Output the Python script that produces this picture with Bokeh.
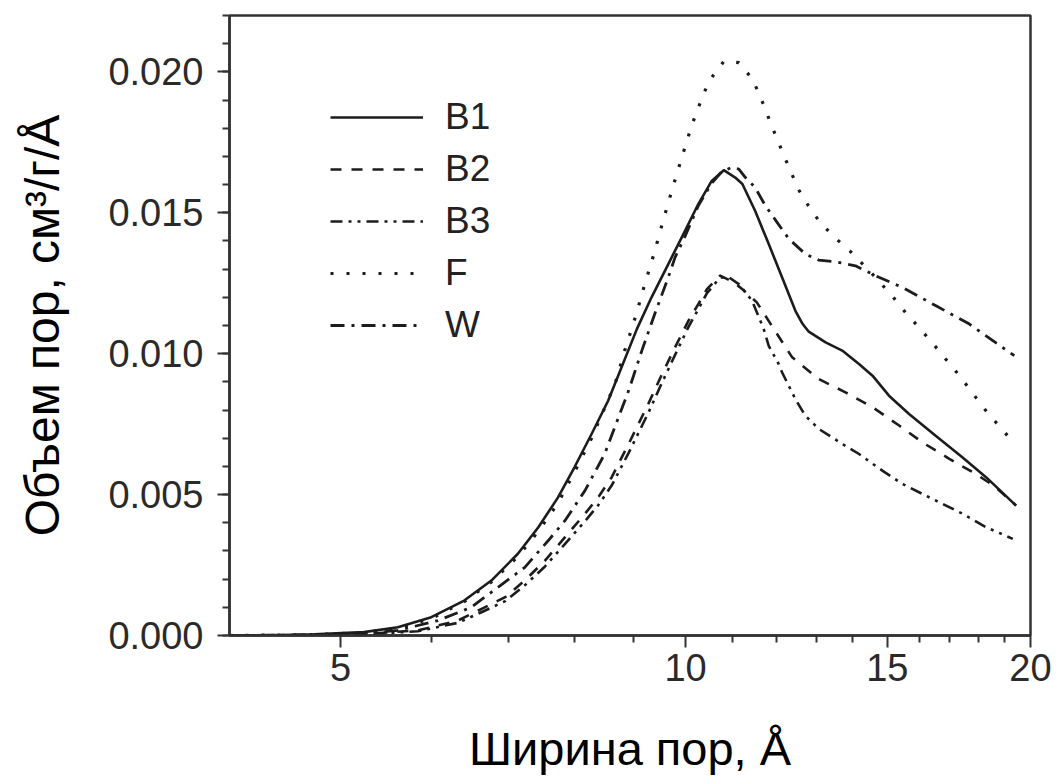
from bokeh.plotting import figure
from bokeh.models import (Range1d, FixedTicker, SingleIntervalTicker, PrintfTickFormatter,
                          Legend, LegendItem)
from bokeh.embed import file_html
from bokeh.resources import INLINE

# ---- data ----
X_TICKS = [5, 10, 15, 20]
X_MINOR = [6, 7, 8, 9, 11, 12, 13, 14, 16, 17, 18, 19]

B1_x = [4.0, 4.43, 4.74, 5.24, 5.61, 6.0, 6.41, 6.77, 7.14, 7.44, 7.74, 8.0, 8.28, 8.56, 9.07, 9.34,
        9.66, 9.99, 10.26, 10.54, 10.8, 11.05, 11.21, 11.5, 11.82, 12.14, 12.47, 12.64, 12.81, 13.25, 13.7,
        14.17, 14.56, 15.05, 15.67, 16.53, 17.45, 18.3, 19.43]
B1_y = [0.0, 0.00002, 0.00004, 0.00012, 0.00029, 0.00065, 0.00124, 0.00195, 0.0029, 0.00384, 0.0049,
        0.00597, 0.00715, 0.00833, 0.01088, 0.012, 0.01318, 0.01436, 0.01531, 0.01613, 0.01651, 0.01625,
        0.01602, 0.01507, 0.01389, 0.01271, 0.01152, 0.01108, 0.01078, 0.0104, 0.01011, 0.00963, 0.00922,
        0.00851, 0.00786, 0.00709, 0.00632, 0.00561, 0.00461]

B2_x = [4.0, 4.74, 5.24, 5.84, 6.33, 6.68, 6.96, 7.24, 7.54, 7.85, 8.17, 8.39, 8.62, 8.92, 9.28, 9.54,
        9.79, 10.06, 10.26, 10.44, 10.72, 11.02, 11.21, 11.54, 11.94, 12.39, 13.07, 13.79, 14.56, 15.36,
        16.1, 16.99, 17.92, 18.6, 19.43]
B2_y = [0.0, 0.00001, 0.00005, 0.00018, 0.00053, 0.001, 0.00136, 0.00195, 0.00266, 0.00349, 0.00432,
        0.0049, 0.00561, 0.0068, 0.00822, 0.00928, 0.01022, 0.01117, 0.01176, 0.01229, 0.01277, 0.01253,
        0.01229, 0.01182, 0.01088, 0.00987, 0.0091, 0.00863, 0.0081, 0.00745, 0.00685, 0.00627, 0.00573,
        0.0053, 0.00461]

B3_x = [4.0, 4.74, 5.24, 5.84, 6.33, 6.68, 6.96, 7.24, 7.54, 7.85, 8.17, 8.39, 8.62, 8.92, 9.28, 9.54,
        9.79, 10.06, 10.26, 10.44, 10.72, 10.9, 11.13, 11.43, 11.7, 11.82, 12.06, 12.14, 12.47, 12.72,
        13.07, 13.7, 14.17, 14.85, 15.46, 16.1, 16.76, 17.45, 18.3, 19.3]
B3_y = [0.0, 0.00001, 0.00004, 0.00015, 0.00045, 0.00088, 0.00122, 0.00178, 0.00245, 0.00325, 0.00405,
        0.00462, 0.00532, 0.00648, 0.0079, 0.00898, 0.00995, 0.01095, 0.01158, 0.01215, 0.0127, 0.01272,
        0.01247, 0.01188, 0.01088, 0.01028, 0.00963, 0.00934, 0.00839, 0.0078, 0.00733, 0.0068, 0.00644,
        0.00585, 0.00538, 0.00502, 0.00467, 0.00432, 0.00384, 0.00343]

F_x = [4.0, 4.74, 5.24, 5.61, 6.0, 6.41, 6.77, 7.14, 7.44, 7.74, 8.0, 8.28, 8.68, 8.85, 9.04, 9.21,
       9.39, 9.56, 9.74, 9.93, 10.13, 10.38, 10.54, 10.8, 11.13, 11.42, 11.6, 11.9, 12.21, 12.56, 12.8,
       13.1, 13.5, 13.91, 14.5, 15.16, 15.56, 16.0, 16.43, 16.88, 17.34, 17.78, 18.26, 18.76, 19.3]
F_y = [0.0, 0.00003, 0.0001, 0.00027, 0.0006, 0.0012, 0.0019, 0.0028, 0.0037, 0.0047, 0.0058, 0.007,
       0.00893, 0.01011, 0.01129, 0.01244, 0.01357, 0.01472, 0.01586, 0.01699, 0.01812, 0.01927, 0.0198,
       0.02037, 0.02033, 0.01978, 0.01921, 0.01805, 0.01694, 0.0158, 0.01525, 0.01466, 0.01412, 0.01365,
       0.0129, 0.01203, 0.01146, 0.01091, 0.01037, 0.00979, 0.00922, 0.00863, 0.00801, 0.00745, 0.00688]

W_x = [4.0, 4.74, 5.24, 5.61, 6.08, 6.5, 6.86, 7.24, 7.59, 7.85, 8.17, 8.5, 8.92, 9.16, 9.4, 9.66,
       9.79, 10.0, 10.26, 10.54, 10.75, 10.98, 11.13, 11.28, 11.5, 11.74, 12.02, 12.31, 12.72, 13.07,
       13.52, 14.07, 14.75, 15.46, 16.54, 17.69, 18.91, 19.36]
W_y = [0.0, 0.00002, 0.00007, 0.00018, 0.00053, 0.001, 0.00171, 0.00242, 0.00337, 0.00408, 0.00514,
       0.00644, 0.00869, 0.01011, 0.01141, 0.01271, 0.01341, 0.0142, 0.01525, 0.01605, 0.01645, 0.01662,
       0.01655, 0.01625, 0.0159, 0.01525, 0.01466, 0.01407, 0.01354, 0.01332, 0.01326, 0.01312, 0.01271,
       0.01235, 0.0117, 0.01105, 0.01022, 0.00993]

LABELS = ["B1", "B2", "B3", "F", "W"]

# ---- figure ----
FONT = "Liberation Sans"
INK = "#1c1c1c"

p = figure(width=1057, height=783, x_axis_type="log",
           x_range=Range1d(4, 20), y_range=Range1d(0, 0.022),
           output_backend="svg", toolbar_location=None,
           min_border_left=229, min_border_right=27, min_border_top=15, min_border_bottom=148)

p.xgrid.visible = False
p.ygrid.visible = False
p.outline_line_color = "#333333"
p.outline_line_width = 2.5
p.background_fill_color = "white"
p.border_fill_color = "white"

series = [(B1_x, B1_y, "solid", 2.6),
          (B2_x, B2_y, "11 10", 2.6),
          (B3_x, B3_y, "12 6 3 6 3 6", 2.6),
          (F_x, F_y, "3 13", 3.2),
          (W_x, W_y, "14 7 3 7", 2.8)]

renderers = []
for (xs, ys, dash, lw) in series:
    r = p.line(xs, ys, line_color=INK, line_width=lw, line_dash=dash, line_join="round")
    renderers.append(r)

# axes
xa = p.xaxis[0]
xa.ticker = FixedTicker(ticks=X_TICKS, minor_ticks=X_MINOR)
xa.formatter = PrintfTickFormatter(format="%d")
ya = p.yaxis[0]
ya.ticker = SingleIntervalTicker(interval=0.005, num_minor_ticks=5)
ya.formatter = PrintfTickFormatter(format="%.3f")

for ax in (xa, ya):
    ax.axis_line_color = "#333333"
    ax.axis_line_width = 2.5
    ax.major_tick_line_color = "#333333"
    ax.minor_tick_line_color = "#333333"
    ax.major_tick_line_width = 2
    ax.minor_tick_line_width = 2
    ax.major_tick_out = 12
    ax.major_tick_in = 0
    ax.minor_tick_out = 7
    ax.minor_tick_in = 0
    ax.major_label_text_font = FONT
    ax.major_label_text_font_size = "38px"
    ax.major_label_text_color = "#2a2a2a"
    ax.axis_label_text_font = FONT
    ax.axis_label_text_font_style = "normal"
    ax.axis_label_text_color = "#000000"

xa.axis_label = "Ширина пор, Å"
xa.axis_label_text_font_size = "47px"
xa.major_label_standoff = 6
xa.axis_label_standoff = 38
ya.axis_label = "Объем пор, см³/г/Å"
ya.axis_label_text_font_size = "48px"
ya.major_label_standoff = 14
ya.axis_label_standoff = 36

legend = Legend(items=[LegendItem(label=lab, renderers=[r]) for lab, r in zip(LABELS, renderers)],
                location=(101, 284), orientation="vertical",
                glyph_width=93, glyph_height=52, label_height=52, label_standoff=22,
                spacing=0, padding=0, margin=0,
                border_line_alpha=0, background_fill_alpha=0,
                label_text_font=FONT, label_text_font_size="37px", label_text_color="#222222")
p.add_layout(legend)

open("out.html", "w").write(file_html(p, INLINE))
